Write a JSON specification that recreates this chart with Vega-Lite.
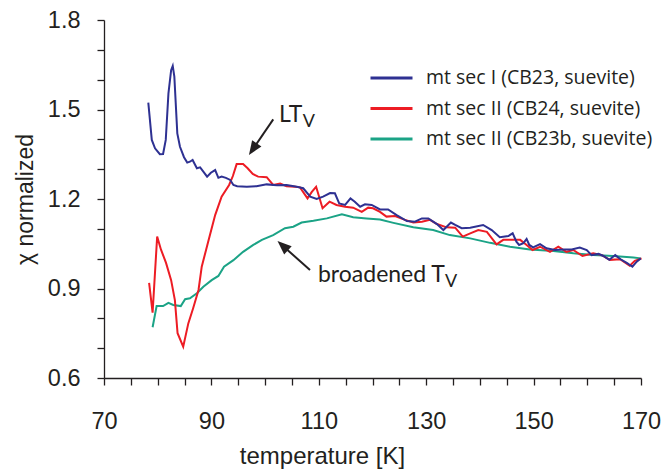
{
  "$schema": "https://vega.github.io/schema/vega-lite/v6.json",
  "width": 537,
  "height": 358,
  "autosize": {"type": "none"},
  "padding": {"left": 104, "top": 20, "right": 20, "bottom": 92},
  "background": "white",
  "config": {
    "view": {"stroke": null},
    "axis": {
      "grid": false,
      "domainColor": "#231f20",
      "domainWidth": 1.3,
      "ticks": true,
      "tickColor": "#231f20",
      "tickWidth": 1.3,
      "tickSize": 7,
      "labelFont": "Liberation Sans",
      "labelFontSize": 23.5,
      "labelColor": "#231f20",
      "titleFont": "Liberation Sans",
      "titleFontSize": 23,
      "titleFontWeight": "normal",
      "titleColor": "#231f20",
      "labelOverlap": false,
      "labelFlush": false
    }
  },
  "datasets": {
    "curves": [
      {"series": "mt sec II (CB23b, suevite)", "T": 79.05, "chi": 0.770},
      {"series": "mt sec II (CB23b, suevite)", "T": 79.8, "chi": 0.841},
      {"series": "mt sec II (CB23b, suevite)", "T": 81.0, "chi": 0.841},
      {"series": "mt sec II (CB23b, suevite)", "T": 82.0, "chi": 0.852},
      {"series": "mt sec II (CB23b, suevite)", "T": 82.9, "chi": 0.845},
      {"series": "mt sec II (CB23b, suevite)", "T": 84.3, "chi": 0.841},
      {"series": "mt sec II (CB23b, suevite)", "T": 85.1, "chi": 0.864},
      {"series": "mt sec II (CB23b, suevite)", "T": 86.0, "chi": 0.867},
      {"series": "mt sec II (CB23b, suevite)", "T": 87.3, "chi": 0.884},
      {"series": "mt sec II (CB23b, suevite)", "T": 88.5, "chi": 0.906},
      {"series": "mt sec II (CB23b, suevite)", "T": 90.05, "chi": 0.928},
      {"series": "mt sec II (CB23b, suevite)", "T": 91.3, "chi": 0.942},
      {"series": "mt sec II (CB23b, suevite)", "T": 92.35, "chi": 0.973},
      {"series": "mt sec II (CB23b, suevite)", "T": 94.1, "chi": 0.995},
      {"series": "mt sec II (CB23b, suevite)", "T": 95.9, "chi": 1.023},
      {"series": "mt sec II (CB23b, suevite)", "T": 97.8, "chi": 1.046},
      {"series": "mt sec II (CB23b, suevite)", "T": 99.4, "chi": 1.063},
      {"series": "mt sec II (CB23b, suevite)", "T": 101.5, "chi": 1.079},
      {"series": "mt sec II (CB23b, suevite)", "T": 103.7, "chi": 1.102},
      {"series": "mt sec II (CB23b, suevite)", "T": 105.25, "chi": 1.107},
      {"series": "mt sec II (CB23b, suevite)", "T": 106.8, "chi": 1.121},
      {"series": "mt sec II (CB23b, suevite)", "T": 109.0, "chi": 1.127},
      {"series": "mt sec II (CB23b, suevite)", "T": 111.5, "chi": 1.135},
      {"series": "mt sec II (CB23b, suevite)", "T": 114.3, "chi": 1.149},
      {"series": "mt sec II (CB23b, suevite)", "T": 116.4, "chi": 1.139},
      {"series": "mt sec II (CB23b, suevite)", "T": 118.9, "chi": 1.135},
      {"series": "mt sec II (CB23b, suevite)", "T": 121.4, "chi": 1.131},
      {"series": "mt sec II (CB23b, suevite)", "T": 123.9, "chi": 1.120},
      {"series": "mt sec II (CB23b, suevite)", "T": 127.6, "chi": 1.105},
      {"series": "mt sec II (CB23b, suevite)", "T": 131.3, "chi": 1.096},
      {"series": "mt sec II (CB23b, suevite)", "T": 134.4, "chi": 1.079},
      {"series": "mt sec II (CB23b, suevite)", "T": 138.2, "chi": 1.068},
      {"series": "mt sec II (CB23b, suevite)", "T": 141.9, "chi": 1.053},
      {"series": "mt sec II (CB23b, suevite)", "T": 145.6, "chi": 1.040},
      {"series": "mt sec II (CB23b, suevite)", "T": 149.3, "chi": 1.031},
      {"series": "mt sec II (CB23b, suevite)", "T": 153.7, "chi": 1.026},
      {"series": "mt sec II (CB23b, suevite)", "T": 157.4, "chi": 1.018},
      {"series": "mt sec II (CB23b, suevite)", "T": 161.1, "chi": 1.012},
      {"series": "mt sec II (CB23b, suevite)", "T": 164.8, "chi": 1.009},
      {"series": "mt sec II (CB23b, suevite)", "T": 168.6, "chi": 1.004},
      {"series": "mt sec II (CB23b, suevite)", "T": 169.95, "chi": 1.001},

      {"series": "mt sec II (CB24, suevite)", "T": 78.4, "chi": 0.919},
      {"series": "mt sec II (CB24, suevite)", "T": 79.05, "chi": 0.819},
      {"series": "mt sec II (CB24, suevite)", "T": 79.9, "chi": 1.074},
      {"series": "mt sec II (CB24, suevite)", "T": 80.6, "chi": 1.031},
      {"series": "mt sec II (CB24, suevite)", "T": 81.55, "chi": 0.986},
      {"series": "mt sec II (CB24, suevite)", "T": 82.5, "chi": 0.928},
      {"series": "mt sec II (CB24, suevite)", "T": 83.2, "chi": 0.861},
      {"series": "mt sec II (CB24, suevite)", "T": 83.7, "chi": 0.750},
      {"series": "mt sec II (CB24, suevite)", "T": 84.75, "chi": 0.705},
      {"series": "mt sec II (CB24, suevite)", "T": 85.7, "chi": 0.783},
      {"series": "mt sec II (CB24, suevite)", "T": 86.6, "chi": 0.834},
      {"series": "mt sec II (CB24, suevite)", "T": 87.6, "chi": 0.895},
      {"series": "mt sec II (CB24, suevite)", "T": 88.2, "chi": 0.973},
      {"series": "mt sec II (CB24, suevite)", "T": 89.4, "chi": 1.057},
      {"series": "mt sec II (CB24, suevite)", "T": 90.7, "chi": 1.146},
      {"series": "mt sec II (CB24, suevite)", "T": 91.9, "chi": 1.208},
      {"series": "mt sec II (CB24, suevite)", "T": 93.3, "chi": 1.247},
      {"series": "mt sec II (CB24, suevite)", "T": 94.0, "chi": 1.277},
      {"series": "mt sec II (CB24, suevite)", "T": 94.7, "chi": 1.317},
      {"series": "mt sec II (CB24, suevite)", "T": 95.9, "chi": 1.317},
      {"series": "mt sec II (CB24, suevite)", "T": 96.75, "chi": 1.303},
      {"series": "mt sec II (CB24, suevite)", "T": 97.7, "chi": 1.284},
      {"series": "mt sec II (CB24, suevite)", "T": 98.7, "chi": 1.275},
      {"series": "mt sec II (CB24, suevite)", "T": 100.3, "chi": 1.273},
      {"series": "mt sec II (CB24, suevite)", "T": 101.5, "chi": 1.247},
      {"series": "mt sec II (CB24, suevite)", "T": 102.8, "chi": 1.252},
      {"series": "mt sec II (CB24, suevite)", "T": 104.0, "chi": 1.243},
      {"series": "mt sec II (CB24, suevite)", "T": 105.6, "chi": 1.241},
      {"series": "mt sec II (CB24, suevite)", "T": 106.5, "chi": 1.239},
      {"series": "mt sec II (CB24, suevite)", "T": 107.9, "chi": 1.202},
      {"series": "mt sec II (CB24, suevite)", "T": 108.7, "chi": 1.224},
      {"series": "mt sec II (CB24, suevite)", "T": 109.5, "chi": 1.241},
      {"series": "mt sec II (CB24, suevite)", "T": 110.7, "chi": 1.169},
      {"series": "mt sec II (CB24, suevite)", "T": 112.0, "chi": 1.191},
      {"series": "mt sec II (CB24, suevite)", "T": 113.3, "chi": 1.180},
      {"series": "mt sec II (CB24, suevite)", "T": 114.9, "chi": 1.174},
      {"series": "mt sec II (CB24, suevite)", "T": 116.4, "chi": 1.171},
      {"series": "mt sec II (CB24, suevite)", "T": 118.0, "chi": 1.157},
      {"series": "mt sec II (CB24, suevite)", "T": 119.2, "chi": 1.171},
      {"series": "mt sec II (CB24, suevite)", "T": 120.1, "chi": 1.169},
      {"series": "mt sec II (CB24, suevite)", "T": 121.4, "chi": 1.157},
      {"series": "mt sec II (CB24, suevite)", "T": 122.6, "chi": 1.141},
      {"series": "mt sec II (CB24, suevite)", "T": 124.2, "chi": 1.143},
      {"series": "mt sec II (CB24, suevite)", "T": 126.05, "chi": 1.130},
      {"series": "mt sec II (CB24, suevite)", "T": 127.6, "chi": 1.121},
      {"series": "mt sec II (CB24, suevite)", "T": 129.2, "chi": 1.124},
      {"series": "mt sec II (CB24, suevite)", "T": 130.7, "chi": 1.130},
      {"series": "mt sec II (CB24, suevite)", "T": 132.0, "chi": 1.116},
      {"series": "mt sec II (CB24, suevite)", "T": 133.8, "chi": 1.105},
      {"series": "mt sec II (CB24, suevite)", "T": 135.4, "chi": 1.104},
      {"series": "mt sec II (CB24, suevite)", "T": 136.8, "chi": 1.074},
      {"series": "mt sec II (CB24, suevite)", "T": 138.2, "chi": 1.085},
      {"series": "mt sec II (CB24, suevite)", "T": 139.7, "chi": 1.096},
      {"series": "mt sec II (CB24, suevite)", "T": 141.3, "chi": 1.090},
      {"series": "mt sec II (CB24, suevite)", "T": 143.1, "chi": 1.048},
      {"series": "mt sec II (CB24, suevite)", "T": 144.35, "chi": 1.063},
      {"series": "mt sec II (CB24, suevite)", "T": 146.5, "chi": 1.063},
      {"series": "mt sec II (CB24, suevite)", "T": 147.5, "chi": 1.063},
      {"series": "mt sec II (CB24, suevite)", "T": 148.7, "chi": 1.046},
      {"series": "mt sec II (CB24, suevite)", "T": 149.8, "chi": 1.029},
      {"series": "mt sec II (CB24, suevite)", "T": 151.2, "chi": 1.040},
      {"series": "mt sec II (CB24, suevite)", "T": 153.05, "chi": 1.023},
      {"series": "mt sec II (CB24, suevite)", "T": 154.6, "chi": 1.040},
      {"series": "mt sec II (CB24, suevite)", "T": 156.1, "chi": 1.023},
      {"series": "mt sec II (CB24, suevite)", "T": 157.4, "chi": 1.029},
      {"series": "mt sec II (CB24, suevite)", "T": 159.1, "chi": 1.009},
      {"series": "mt sec II (CB24, suevite)", "T": 161.1, "chi": 1.018},
      {"series": "mt sec II (CB24, suevite)", "T": 162.7, "chi": 1.012},
      {"series": "mt sec II (CB24, suevite)", "T": 164.2, "chi": 0.996},
      {"series": "mt sec II (CB24, suevite)", "T": 166.1, "chi": 0.998},
      {"series": "mt sec II (CB24, suevite)", "T": 167.9, "chi": 0.976},
      {"series": "mt sec II (CB24, suevite)", "T": 168.85, "chi": 0.993},
      {"series": "mt sec II (CB24, suevite)", "T": 170.1, "chi": 1.001},

      {"series": "mt sec I (CB23, suevite)", "T": 78.25, "chi": 1.523},
      {"series": "mt sec I (CB23, suevite)", "T": 78.9, "chi": 1.398},
      {"series": "mt sec I (CB23, suevite)", "T": 79.5, "chi": 1.370},
      {"series": "mt sec I (CB23, suevite)", "T": 80.4, "chi": 1.350},
      {"series": "mt sec I (CB23, suevite)", "T": 81.0, "chi": 1.351},
      {"series": "mt sec I (CB23, suevite)", "T": 81.5, "chi": 1.398},
      {"series": "mt sec I (CB23, suevite)", "T": 82.0, "chi": 1.554},
      {"series": "mt sec I (CB23, suevite)", "T": 82.5, "chi": 1.632},
      {"series": "mt sec I (CB23, suevite)", "T": 82.8, "chi": 1.646},
      {"series": "mt sec I (CB23, suevite)", "T": 83.1, "chi": 1.610},
      {"series": "mt sec I (CB23, suevite)", "T": 83.65, "chi": 1.420},
      {"series": "mt sec I (CB23, suevite)", "T": 84.15, "chi": 1.375},
      {"series": "mt sec I (CB23, suevite)", "T": 84.9, "chi": 1.340},
      {"series": "mt sec I (CB23, suevite)", "T": 85.5, "chi": 1.322},
      {"series": "mt sec I (CB23, suevite)", "T": 86.0, "chi": 1.325},
      {"series": "mt sec I (CB23, suevite)", "T": 86.5, "chi": 1.331},
      {"series": "mt sec I (CB23, suevite)", "T": 87.3, "chi": 1.303},
      {"series": "mt sec I (CB23, suevite)", "T": 87.9, "chi": 1.306},
      {"series": "mt sec I (CB23, suevite)", "T": 88.5, "chi": 1.292},
      {"series": "mt sec I (CB23, suevite)", "T": 89.2, "chi": 1.275},
      {"series": "mt sec I (CB23, suevite)", "T": 89.9, "chi": 1.288},
      {"series": "mt sec I (CB23, suevite)", "T": 90.7, "chi": 1.297},
      {"series": "mt sec I (CB23, suevite)", "T": 91.3, "chi": 1.271},
      {"series": "mt sec I (CB23, suevite)", "T": 91.9, "chi": 1.275},
      {"series": "mt sec I (CB23, suevite)", "T": 92.7, "chi": 1.271},
      {"series": "mt sec I (CB23, suevite)", "T": 93.5, "chi": 1.264},
      {"series": "mt sec I (CB23, suevite)", "T": 94.1, "chi": 1.247},
      {"series": "mt sec I (CB23, suevite)", "T": 94.8, "chi": 1.243},
      {"series": "mt sec I (CB23, suevite)", "T": 96.6, "chi": 1.241},
      {"series": "mt sec I (CB23, suevite)", "T": 98.4, "chi": 1.243},
      {"series": "mt sec I (CB23, suevite)", "T": 100.3, "chi": 1.249},
      {"series": "mt sec I (CB23, suevite)", "T": 102.2, "chi": 1.246},
      {"series": "mt sec I (CB23, suevite)", "T": 104.0, "chi": 1.247},
      {"series": "mt sec I (CB23, suevite)", "T": 105.9, "chi": 1.241},
      {"series": "mt sec I (CB23, suevite)", "T": 107.1, "chi": 1.236},
      {"series": "mt sec I (CB23, suevite)", "T": 108.4, "chi": 1.208},
      {"series": "mt sec I (CB23, suevite)", "T": 109.6, "chi": 1.200},
      {"series": "mt sec I (CB23, suevite)", "T": 110.8, "chi": 1.208},
      {"series": "mt sec I (CB23, suevite)", "T": 112.1, "chi": 1.220},
      {"series": "mt sec I (CB23, suevite)", "T": 113.0, "chi": 1.219},
      {"series": "mt sec I (CB23, suevite)", "T": 113.8, "chi": 1.185},
      {"series": "mt sec I (CB23, suevite)", "T": 114.9, "chi": 1.180},
      {"series": "mt sec I (CB23, suevite)", "T": 115.9, "chi": 1.202},
      {"series": "mt sec I (CB23, suevite)", "T": 116.7, "chi": 1.191},
      {"series": "mt sec I (CB23, suevite)", "T": 117.7, "chi": 1.174},
      {"series": "mt sec I (CB23, suevite)", "T": 118.6, "chi": 1.182},
      {"series": "mt sec I (CB23, suevite)", "T": 119.85, "chi": 1.180},
      {"series": "mt sec I (CB23, suevite)", "T": 121.4, "chi": 1.165},
      {"series": "mt sec I (CB23, suevite)", "T": 122.9, "chi": 1.165},
      {"series": "mt sec I (CB23, suevite)", "T": 124.5, "chi": 1.146},
      {"series": "mt sec I (CB23, suevite)", "T": 126.4, "chi": 1.126},
      {"series": "mt sec I (CB23, suevite)", "T": 127.9, "chi": 1.124},
      {"series": "mt sec I (CB23, suevite)", "T": 129.2, "chi": 1.135},
      {"series": "mt sec I (CB23, suevite)", "T": 130.4, "chi": 1.135},
      {"series": "mt sec I (CB23, suevite)", "T": 132.0, "chi": 1.116},
      {"series": "mt sec I (CB23, suevite)", "T": 133.2, "chi": 1.096},
      {"series": "mt sec I (CB23, suevite)", "T": 134.6, "chi": 1.121},
      {"series": "mt sec I (CB23, suevite)", "T": 135.4, "chi": 1.113},
      {"series": "mt sec I (CB23, suevite)", "T": 136.6, "chi": 1.102},
      {"series": "mt sec I (CB23, suevite)", "T": 138.2, "chi": 1.104},
      {"series": "mt sec I (CB23, suevite)", "T": 140.6, "chi": 1.113},
      {"series": "mt sec I (CB23, suevite)", "T": 142.2, "chi": 1.096},
      {"series": "mt sec I (CB23, suevite)", "T": 143.7, "chi": 1.072},
      {"series": "mt sec I (CB23, suevite)", "T": 145.3, "chi": 1.076},
      {"series": "mt sec I (CB23, suevite)", "T": 146.1, "chi": 1.085},
      {"series": "mt sec I (CB23, suevite)", "T": 146.8, "chi": 1.057},
      {"series": "mt sec I (CB23, suevite)", "T": 147.3, "chi": 1.046},
      {"series": "mt sec I (CB23, suevite)", "T": 148.1, "chi": 1.052},
      {"series": "mt sec I (CB23, suevite)", "T": 148.7, "chi": 1.066},
      {"series": "mt sec I (CB23, suevite)", "T": 149.2, "chi": 1.046},
      {"series": "mt sec I (CB23, suevite)", "T": 149.9, "chi": 1.038},
      {"series": "mt sec I (CB23, suevite)", "T": 151.2, "chi": 1.049},
      {"series": "mt sec I (CB23, suevite)", "T": 152.4, "chi": 1.035},
      {"series": "mt sec I (CB23, suevite)", "T": 154.0, "chi": 1.029},
      {"series": "mt sec I (CB23, suevite)", "T": 155.8, "chi": 1.031},
      {"series": "mt sec I (CB23, suevite)", "T": 157.1, "chi": 1.031},
      {"series": "mt sec I (CB23, suevite)", "T": 158.6, "chi": 1.037},
      {"series": "mt sec I (CB23, suevite)", "T": 159.9, "chi": 1.029},
      {"series": "mt sec I (CB23, suevite)", "T": 160.8, "chi": 1.012},
      {"series": "mt sec I (CB23, suevite)", "T": 162.1, "chi": 1.016},
      {"series": "mt sec I (CB23, suevite)", "T": 163.0, "chi": 1.009},
      {"series": "mt sec I (CB23, suevite)", "T": 164.1, "chi": 0.996},
      {"series": "mt sec I (CB23, suevite)", "T": 165.2, "chi": 1.012},
      {"series": "mt sec I (CB23, suevite)", "T": 166.2, "chi": 0.998},
      {"series": "mt sec I (CB23, suevite)", "T": 167.35, "chi": 0.986},
      {"series": "mt sec I (CB23, suevite)", "T": 168.4, "chi": 0.973},
      {"series": "mt sec I (CB23, suevite)", "T": 169.2, "chi": 0.990},
      {"series": "mt sec I (CB23, suevite)", "T": 169.95, "chi": 1.001}
    ],
    "mainLabels": [
      {"text": "LT", "T": 102.6, "chi": 1.458},
      {"text": "broadened T", "T": 109.85, "chi": 0.9227}
    ],
    "subLabels": [
      {"text": "V", "T": 107.0, "chi": 1.441},
      {"text": "V", "T": 133.5, "chi": 0.9066}
    ],
    "arrowShafts": [
      {"T": 101.52, "chi": 1.467, "T2": 97.72, "chi2": 1.367},
      {"T": 108.36, "chi": 0.9618, "T2": 103.28, "chi2": 1.0434}
    ],
    "headLT": [{"T": 97.72, "chi": 1.367}],
    "headBroad": [{"T": 103.28, "chi": 1.0434}]
  },
  "encoding": {
    "x": {
      "field": "T", "type": "quantitative",
      "title": "temperature [K]",
      "scale": {"domain": [70, 170], "nice": false, "zero": false},
      "axis": {
        "values": [70, 75, 80, 85, 90, 95, 100, 105, 110, 115, 120, 125, 130, 135, 140, 145, 150, 155, 160, 165, 170],
        "labelExpr": "datum.value % 20 == 10 ? datum.label : ''",
        "labelOverlap": false,
        "ticks": true,
        "tickSize": 7,
        "labelPadding": 24,
        "titleFontSize": 24,
        "titleX": 218,
        "titleY": 85,
        "titleAlign": "center",
        "titleBaseline": "alphabetic"
      }
    },
    "y": {
      "field": "chi", "type": "quantitative",
      "title": "χ normalized",
      "scale": {"domain": [0.6, 1.8], "nice": false, "zero": false},
      "axis": {
        "values": [0.6, 0.7, 0.8, 0.9, 1.0, 1.1, 1.2, 1.3, 1.4, 1.5, 1.6, 1.7, 1.8],
        "format": ".1f",
        "labelExpr": "round(datum.value * 10) % 3 == 0 ? datum.label : ''",
        "labelOverlap": false,
        "ticks": true,
        "tickSize": 7,
        "labelPadding": 17,
        "titleX": -72,
        "titleY": 179,
        "titleAngle": 270,
        "titleAlign": "center",
        "titleBaseline": "alphabetic"
      }
    }
  },
  "layer": [
    {
      "data": {"name": "curves"},
      "mark": {"type": "line", "strokeWidth": 2},
      "encoding": {
        "color": {
          "field": "series", "type": "nominal",
          "scale": {
            "domain": ["mt sec I (CB23, suevite)", "mt sec II (CB24, suevite)", "mt sec II (CB23b, suevite)"],
            "range": ["#2E3192", "#ED1C24", "#1BA386"]
          },
          "legend": {
            "orient": "none",
            "legendX": 265,
            "legendY": 48,
            "title": null,
            "symbolType": "stroke",
            "symbolSize": 1764,
            "symbolStrokeWidth": 3,
            "clipHeight": 20,
            "rowPadding": 10.5,
            "labelOffset": 12,
            "labelLimit": 400,
            "labelFont": "Open Sans",
            "labelFontSize": 19.5,
            "labelColor": "#231f20",
            "padding": 0
          }
        }
      }
    },
    {
      "data": {"name": "arrowShafts"},
      "mark": {"type": "rule", "strokeWidth": 2, "color": "#231f20"},
      "encoding": {
        "x2": {"field": "T2"},
        "y2": {"field": "chi2"}
      }
    },
    {
      "data": {"name": "headLT"},
      "mark": {"type": "point", "shape": "M0,-1L0.8,1L-0.8,1Z", "filled": true, "opacity": 1, "size": 196, "angle": 214, "color": "#231f20"},
      "encoding": {}
    },
    {
      "data": {"name": "headBroad"},
      "mark": {"type": "point", "shape": "M0,-1L0.8,1L-0.8,1Z", "filled": true, "opacity": 1, "size": 196, "angle": 312, "color": "#231f20"},
      "encoding": {}
    },
    {
      "data": {"name": "mainLabels"},
      "mark": {"type": "text", "font": "Lato", "fontSize": 23, "align": "left", "baseline": "alphabetic", "color": "#231f20"},
      "encoding": {
        "text": {"field": "text"}
      }
    },
    {
      "data": {"name": "subLabels"},
      "mark": {"type": "text", "font": "Lato", "fontSize": 18, "align": "left", "baseline": "alphabetic", "color": "#231f20"},
      "encoding": {
        "text": {"field": "text"}
      }
    }
  ]
}
